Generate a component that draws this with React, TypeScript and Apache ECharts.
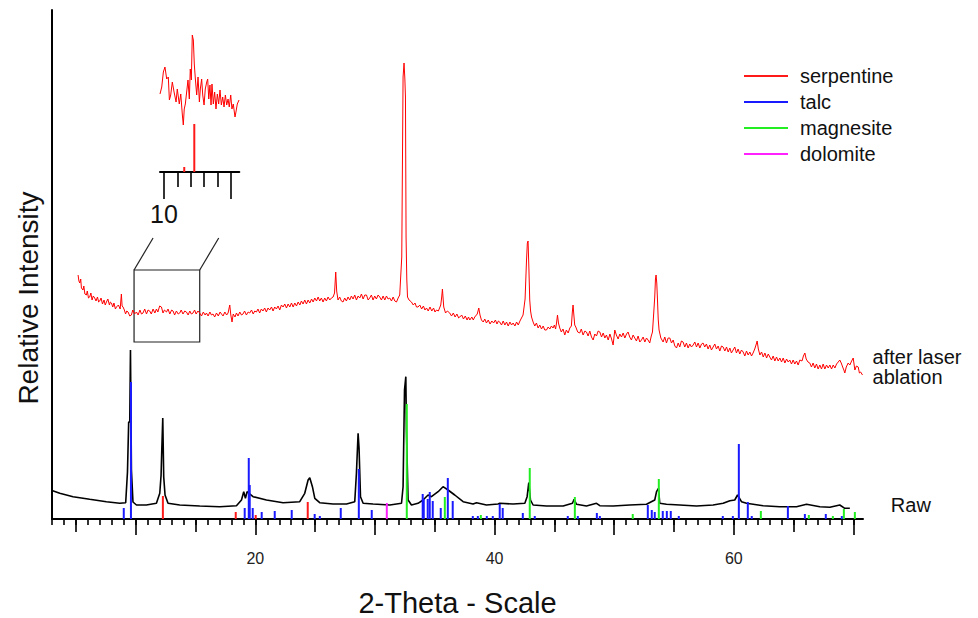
import React, { useEffect, useRef } from "react";
import * as echarts from "echarts";

const FONT = '"Liberation Sans", Arial, sans-serif';

// main axis range (2-theta, degrees)
const X_MIN = 3;
const X_MAX = 70.8;
const Y_MAX = 509;
const minorTickValues = Array.from({ length: 68 }, (_, i) => i + 3);
const midTickValues = [5, 15, 25, 35, 45, 55, 65];
const majorTickValues = [10, 20, 30, 40, 50, 60, 70];
const tickLabelValues = [20, 40, 60];

// inset axis
const INSET_MIN = 9.7;
const INSET_MAX = 15.62;
const insetMinorTicks = [11, 12, 13, 14];
const insetMajorTicks = [10, 15];
const insetLabelValues = [10];

// raw pattern (black)
const rawTrace: number[][] = [
  [3.0, 28.5], [3.65, 25.7], [4.76, 22.3], [6.15, 19.7], [7.55, 17.3], [8.66, 15.7], [9.16, 16.3],
  [9.31, 47], [9.41, 97], [9.5, 97], [9.56, 169], [9.64, 49], [9.77, 17], [10.06, 14], [10.89, 14],
  [11.73, 15.7], [12.01, 25.7], [12.12, 44], [12.17, 66], [12.26, 101], [12.34, 42], [12.45, 24],
  [12.7, 15.7], [13.68, 14], [15.35, 13], [17.02, 12.3], [18.42, 13.3], [18.84, 19], [19.03, 27.3],
  [19.17, 20.7], [19.31, 27.3], [19.47, 25.7], [19.81, 22.3], [20.93, 19], [22.32, 16.3], [23.71, 17.3],
  [24.13, 25.7], [24.41, 39], [24.55, 41.3], [24.77, 32.3], [24.97, 20.7], [25.38, 16.3], [26.5, 15],
  [27.62, 15], [28.31, 17.3], [28.45, 45.7], [28.59, 85.7], [28.67, 70.7], [28.79, 22.3], [29.01, 15.7],
  [29.84, 15], [31.24, 14], [32.22, 15.7], [32.35, 32.3], [32.47, 129], [32.58, 142.3], [32.63, 89],
  [32.77, 19], [33.05, 14], [33.6, 15.7], [34.02, 19], [34.44, 24], [34.72, 22.3], [35.28, 27.3],
  [35.69, 32.3], [36.11, 29], [36.67, 24], [37.37, 17.3], [38.2, 15], [38.49, 16.3], [39.32, 14],
  [40.29, 15], [40.43, 15.7], [41.55, 15], [42.53, 15.7], [42.72, 22.3], [42.86, 36.3], [43.0, 19],
  [43.22, 14], [44.34, 13], [45.73, 13], [46.51, 15.7], [46.65, 19.7], [46.85, 14.7], [47.68, 13],
  [48.52, 15.7], [48.8, 13.3], [49.91, 13], [51.3, 14], [52.7, 14.7], [53.39, 19], [53.54, 27.3],
  [53.7, 30.7], [53.81, 15.7], [54.37, 14.7], [55.48, 14], [56.88, 13], [58.27, 14], [59.11, 15.7],
  [59.67, 18.3], [60.08, 19], [60.31, 24], [60.64, 17.3], [61.06, 15.7], [62.45, 13.3], [63.85, 12.3],
  [65.24, 12.3], [66.08, 14.7], [67.19, 12.3], [68.03, 11.7], [68.86, 14], [69.28, 10.7], [69.7, 10.7],
];

// pattern after laser ablation (red, offset)
const ablatedTrace: number[][] = [
  [5.18, 244], [5.25, 238], [5.32, 236], [5.4, 240], [5.46, 231], [5.59, 229], [5.66, 233], [5.75, 225],
  [5.88, 224], [5.95, 228], [6.05, 221], [6.15, 222], [6.25, 226], [6.35, 219], [6.45, 223], [6.57, 221],
  [6.68, 218], [6.8, 222], [6.9, 217], [6.99, 218], [7.1, 221], [7.22, 215], [7.35, 219], [7.45, 214],
  [7.55, 217], [7.67, 220], [7.8, 214], [7.88, 217], [7.97, 216], [8.08, 212], [8.18, 216], [8.3, 210],
  [8.39, 212], [8.55, 214], [8.7, 210], [8.8, 225], [8.86, 213], [8.94, 212], [9.05, 209], [9.15, 205],
  [9.25, 208], [9.36, 207], [9.5, 203], [9.64, 204], [9.75, 209], [9.9, 205], [10.06, 207], [10.2, 204],
  [10.35, 209], [10.48, 205], [10.61, 206], [10.75, 210], [10.9, 205], [11.03, 209], [11.17, 208],
  [11.3, 205], [11.45, 210], [11.6, 206], [11.73, 210], [11.85, 207], [12.0, 213], [12.15, 212],
  [12.28, 206], [12.4, 209], [12.57, 207], [12.7, 210], [12.85, 205], [13.0, 209], [13.12, 208],
  [13.25, 204], [13.4, 208], [13.55, 205], [13.68, 206], [13.8, 209], [13.95, 205], [14.1, 208],
  [14.24, 207], [14.38, 204], [14.52, 208], [14.65, 205], [14.79, 206], [14.92, 209], [15.05, 205],
  [15.2, 208], [15.35, 206], [15.5, 203], [15.65, 207], [15.8, 204], [15.91, 206], [16.05, 203],
  [16.2, 207], [16.33, 204], [16.46, 205], [16.6, 202], [16.75, 206], [16.9, 203], [17.05, 207],
  [17.17, 205], [17.3, 203], [17.45, 207], [17.6, 204], [17.72, 206], [17.86, 214], [17.95, 204],
  [18.05, 197], [18.15, 205], [18.3, 202], [18.42, 206], [18.55, 203], [18.7, 207], [18.84, 204],
  [18.97, 205], [19.1, 208], [19.25, 204], [19.4, 207], [19.53, 206], [19.68, 209], [19.82, 205],
  [19.95, 208], [20.09, 207], [20.22, 210], [20.36, 206], [20.5, 210], [20.64, 208], [20.78, 211],
  [20.92, 207], [21.06, 211], [21.2, 209], [21.35, 212], [21.48, 208], [21.62, 212], [21.76, 210],
  [21.9, 213], [22.04, 209], [22.18, 214], [22.32, 212], [22.46, 215], [22.6, 211], [22.74, 215],
  [22.88, 212], [23.02, 216], [23.16, 212], [23.3, 216], [23.44, 213], [23.58, 217], [23.72, 214],
  [23.85, 218], [23.99, 215], [24.13, 219], [24.27, 215], [24.41, 219], [24.55, 216], [24.7, 220],
  [24.83, 217], [24.97, 221], [25.11, 218], [25.25, 222], [25.38, 218], [25.52, 221], [25.66, 217],
  [25.8, 221], [25.94, 218], [26.08, 222], [26.22, 219], [26.36, 221], [26.5, 222], [26.62, 226],
  [26.72, 247], [26.8, 228], [26.91, 219], [27.05, 222], [27.19, 218], [27.33, 217], [27.47, 221],
  [27.61, 218], [27.75, 222], [27.89, 219], [28.03, 223], [28.17, 220], [28.31, 224], [28.45, 219],
  [28.59, 223], [28.73, 221], [28.87, 225], [29.01, 220], [29.15, 224], [29.29, 224], [29.43, 219],
  [29.56, 221], [29.7, 224], [29.84, 219], [29.98, 223], [30.12, 220], [30.26, 224], [30.4, 222],
  [30.54, 219], [30.68, 223], [30.82, 219], [30.96, 223], [31.1, 220], [31.24, 221], [31.38, 218],
  [31.52, 222], [31.66, 218], [31.8, 217], [31.94, 221], [32.07, 224], [32.24, 262], [32.35, 442],
  [32.43, 456], [32.5, 440], [32.55, 422], [32.6, 282], [32.66, 240], [32.72, 222], [32.85, 219],
  [33.05, 217], [33.2, 214], [33.35, 216], [33.47, 212], [33.6, 212], [33.75, 214], [33.9, 210],
  [34.05, 213], [34.18, 209], [34.31, 211], [34.45, 208], [34.6, 212], [34.75, 208], [34.9, 211],
  [35.02, 207], [35.14, 209], [35.3, 208], [35.5, 214], [35.58, 222], [35.64, 230], [35.7, 220],
  [35.75, 212], [35.9, 206], [36.05, 208], [36.25, 206], [36.4, 203], [36.55, 206], [36.7, 202],
  [36.85, 205], [37.0, 201], [37.09, 202], [37.25, 204], [37.4, 200], [37.55, 203], [37.7, 199],
  [37.82, 202], [37.93, 199], [38.1, 202], [38.22, 199], [38.34, 202], [38.55, 205], [38.68, 211],
  [38.78, 204], [38.9, 199], [39.05, 197], [39.18, 200], [39.32, 196], [39.47, 199], [39.62, 195],
  [39.77, 198], [39.92, 196], [40.07, 199], [40.2, 195], [40.32, 198], [40.43, 197], [40.58, 194],
  [40.72, 198], [40.86, 194], [41.0, 197], [41.14, 193], [41.28, 197], [41.42, 194], [41.55, 196],
  [41.7, 193], [41.84, 197], [41.98, 194], [42.12, 198], [42.25, 201], [42.38, 204], [42.55, 220],
  [42.67, 259], [42.74, 276], [42.8, 278], [42.87, 250], [42.94, 219], [43.01, 208], [43.09, 202],
  [43.22, 197], [43.36, 193], [43.5, 196], [43.64, 191], [43.78, 194], [43.92, 190], [44.06, 193],
  [44.2, 189], [44.34, 189], [44.48, 192], [44.62, 190], [44.75, 193], [44.89, 191], [45.0, 194],
  [45.1, 190], [45.18, 196], [45.26, 204], [45.34, 196], [45.45, 191], [45.58, 187], [45.72, 190],
  [45.87, 184], [46.0, 189], [46.15, 186], [46.29, 191], [46.42, 193], [46.5, 207], [46.56, 214],
  [46.62, 205], [46.7, 194], [46.79, 192], [46.95, 187], [47.12, 186], [47.25, 190], [47.4, 184],
  [47.55, 188], [47.68, 187], [47.82, 183], [47.96, 188], [48.1, 182], [48.24, 179], [48.38, 185],
  [48.52, 183], [48.66, 188], [48.8, 187], [48.94, 182], [49.08, 186], [49.22, 181], [49.35, 184],
  [49.5, 179], [49.64, 185], [49.78, 180], [49.91, 174], [50.05, 189], [50.18, 184], [50.33, 180],
  [50.47, 185], [50.61, 182], [50.75, 186], [50.89, 181], [51.03, 185], [51.16, 187], [51.3, 182],
  [51.44, 179], [51.58, 184], [51.72, 181], [51.86, 178], [52.0, 183], [52.14, 177], [52.28, 179],
  [52.42, 182], [52.56, 177], [52.7, 181], [52.83, 179], [52.97, 176], [53.1, 183], [53.2, 187],
  [53.3, 205], [53.39, 222], [53.45, 240], [53.5, 244], [53.56, 236], [53.62, 219], [53.68, 200],
  [53.75, 189], [53.9, 181], [54.09, 177], [54.23, 182], [54.37, 176], [54.51, 181], [54.65, 181],
  [54.79, 176], [54.93, 179], [55.07, 173], [55.21, 171], [55.35, 176], [55.48, 172], [55.62, 178],
  [55.76, 177], [55.9, 172], [56.04, 176], [56.18, 171], [56.32, 175], [56.46, 172], [56.6, 174],
  [56.74, 177], [56.88, 172], [57.02, 176], [57.16, 171], [57.3, 175], [57.43, 176], [57.57, 172],
  [57.71, 175], [57.85, 170], [57.99, 174], [58.13, 169], [58.27, 172], [58.41, 175], [58.55, 170],
  [58.69, 173], [58.83, 168], [58.97, 173], [59.11, 172], [59.25, 168], [59.39, 172], [59.53, 167],
  [59.67, 171], [59.8, 166], [59.94, 169], [60.08, 172], [60.22, 166], [60.36, 170], [60.5, 165],
  [60.64, 169], [60.78, 167], [60.92, 163], [61.06, 168], [61.2, 164], [61.34, 167], [61.48, 163],
  [61.61, 166], [61.75, 170], [61.88, 175], [61.95, 178], [62.05, 170], [62.18, 164], [62.32, 167],
  [62.46, 162], [62.6, 166], [62.74, 161], [62.88, 165], [63.01, 162], [63.15, 159], [63.29, 163],
  [63.43, 158], [63.57, 162], [63.71, 158], [63.85, 161], [63.99, 157], [64.13, 161], [64.27, 156],
  [64.41, 160], [64.55, 157], [64.68, 159], [64.82, 155], [64.96, 159], [65.1, 155], [65.24, 158],
  [65.38, 154], [65.52, 159], [65.7, 158], [65.82, 163], [65.94, 166], [66.05, 160], [66.2, 157],
  [66.35, 156], [66.49, 152], [66.63, 156], [66.77, 151], [66.91, 155], [67.05, 150], [67.19, 154],
  [67.33, 150], [67.47, 155], [67.61, 150], [67.75, 154], [67.89, 151], [68.03, 154], [68.17, 150],
  [68.31, 154], [68.45, 151], [68.59, 155], [68.73, 157], [68.86, 159], [68.98, 156], [69.1, 152],
  [69.2, 149], [69.28, 146], [69.4, 152], [69.56, 156], [69.7, 154], [69.85, 158], [69.98, 161],
  [70.05, 155], [70.12, 149], [70.25, 153], [70.4, 152], [70.5, 146], [70.6, 147], [70.76, 144],
];

// reference stick patterns [2-theta, relative height]
const serpentineSticks: number[][] = [[12.27, 23], [18.36, 7], [20.03, 4], [24.38, 17]];
const talcSticks: number[][] = [
  [9.0, 11], [9.6, 137], [19.11, 11], [19.45, 61], [19.53, 34], [19.78, 11], [20.53, 7], [21.62, 8],
  [23.04, 9], [24.96, 5], [25.39, 3], [27.14, 11], [28.65, 50], [29.73, 9], [33.99, 25], [34.08, 20],
  [34.41, 20], [34.58, 27], [34.83, 18], [35.5, 11], [36.09, 41], [36.5, 18], [38.18, 3], [38.6, 3],
  [39.35, 3], [39.85, 3], [40.43, 15], [40.68, 11], [42.36, 6], [43.36, 3], [46.12, 3], [46.96, 3],
  [48.55, 6], [48.8, 3], [52.81, 14], [53.14, 9], [53.39, 7], [54.06, 8], [54.4, 8], [54.73, 8],
  [55.4, 3], [59.08, 3], [59.92, 3], [60.42, 75], [61.17, 17], [61.5, 3], [64.52, 13], [65.94, 5],
  [67.69, 5], [69.03, 3],
];
const magnesiteSticks: number[][] = [
  [32.66, 115], [35.84, 22], [38.85, 4], [42.94, 51], [46.71, 22], [51.55, 5], [53.73, 40],
  [62.26, 8], [66.27, 4], [68.28, 3], [69.2, 10], [70.12, 7],
];
const dolomiteSticks: number[][] = [[30.99, 16]];

// inset: enlarged region 9.7-15.6 of the ablated pattern
const insetTrace: number[][] = [
  [9.7, 78], [9.83, 85], [9.95, 100], [10.07, 105], [10.2, 93], [10.32, 95], [10.4, 72], [10.5, 77],
  [10.62, 90], [10.75, 80], [10.9, 70], [10.99, 83], [11.14, 68], [11.25, 78], [11.37, 57], [11.44, 47],
  [11.51, 63], [11.59, 68], [11.69, 80], [11.79, 92], [11.89, 73], [11.96, 103], [12.04, 92],
  [12.11, 137], [12.19, 132], [12.26, 108], [12.34, 93], [12.44, 77], [12.54, 95], [12.64, 70],
  [12.71, 83], [12.81, 93], [12.89, 77], [12.99, 67], [13.08, 83], [13.19, 90], [13.26, 93],
  [13.34, 73], [13.43, 87], [13.51, 67], [13.58, 88], [13.68, 68], [13.78, 80], [13.88, 63],
  [13.98, 78], [14.08, 68], [14.18, 82], [14.28, 67], [14.38, 75], [14.48, 65], [14.58, 77],
  [14.68, 67], [14.78, 73], [14.87, 65], [14.98, 77], [15.07, 63], [15.17, 68], [15.3, 55],
  [15.37, 60], [15.47, 68], [15.6, 72],
];
const insetSticks: number[][] = [[11.51, 5], [12.26, 48]];
const INSET_Y_MAX = 142;

// zoom box on the ablated pattern
const zoomBox = { x0: 9.86, x1: 15.35, y0: 177, y1: 249 };

const legendNames = ["serpentine", "talc", "magnesite", "dolomite"];
const COLORS: Record<string, string> = {
  serpentine: "#ff1a1a",
  talc: "#1a1aff",
  magnesite: "#22ee22",
  dolomite: "#ff22ff",
};

function stickRenderer(width: number) {
  return (params: any, api: any) => {
    const x = api.value(0);
    const h = api.value(1);
    const p0 = api.coord([x, 0]);
    const p1 = api.coord([x, h]);
    return {
      type: "rect",
      shape: { x: p0[0] - width / 2, y: p1[1], width, height: p0[1] - p1[1] },
      style: { fill: api.visual("color") },
    };
  };
}

function stickSeries(name: string, data: number[][], xi = 0, yi = 0) {
  return {
    type: "custom",
    name,
    xAxisIndex: xi,
    yAxisIndex: yi,
    data,
    encode: { x: 0, y: 1 },
    itemStyle: { color: COLORS[name] },
    renderItem: stickRenderer(2),
    z: 3,
    silent: true,
  };
}

export default function App() {
  const ref = useRef<HTMLDivElement>(null);
  useEffect(() => {
    if (!ref.current) return;
    document.body.style.margin = "0";
    const chart = echarts.init(ref.current, null, { renderer: "svg" });
    const hiddenAxisBits = {
      axisLine: { show: false },
      axisLabel: { show: false },
      splitLine: { show: false },
    };
    const option: any = {
      animation: false,
      backgroundColor: "#ffffff",
      textStyle: { fontFamily: FONT },
      grid: [
        { left: 52, top: 10, width: 811, height: 509, outerBoundsMode: "none" },
        { left: 160, top: 30, width: 79.3, height: 142, outerBoundsMode: "none" },
      ],
      legend: {
        orient: "vertical",
        left: 739,
        top: 61,
        itemWidth: 44,
        itemHeight: 2,
        itemGap: 6,
        selectedMode: false,
        data: legendNames.map((n) => ({ name: n, icon: "rect" })),
        textStyle: { fontSize: 20, color: "#111", fontFamily: FONT, padding: [0, 0, 0, 7] },
      },
      xAxis: [
        {
          type: "value",
          gridIndex: 0,
          position: "bottom",
          min: X_MIN,
          max: X_MAX,
          axisLine: { show: true, onZero: false, lineStyle: { color: "#000", width: 2 } },
          axisTick: { show: true, customValues: minorTickValues, length: 6, lineStyle: { color: "#000", width: 1.6 } },
          axisLabel: { show: true, customValues: tickLabelValues, margin: 31, fontSize: 16, color: "#222", fontFamily: FONT },
          splitLine: { show: false },
          name: "2-Theta - Scale",
          nameLocation: "middle",
          nameGap: 69,
          nameTextStyle: { fontSize: 29, color: "#111", fontFamily: FONT },
        },
        {
          type: "value",
          gridIndex: 0,
          position: "bottom",
          min: X_MIN,
          max: X_MAX,
          ...hiddenAxisBits,
          axisTick: { show: true, customValues: midTickValues, length: 13, lineStyle: { color: "#000", width: 1.6 } },
        },
        {
          type: "value",
          gridIndex: 0,
          position: "bottom",
          min: X_MIN,
          max: X_MAX,
          ...hiddenAxisBits,
          axisTick: { show: true, customValues: majorTickValues, length: 16, lineStyle: { color: "#000", width: 1.6 } },
        },
        {
          type: "value",
          gridIndex: 1,
          position: "bottom",
          min: INSET_MIN,
          max: INSET_MAX,
          axisLine: { show: true, onZero: false, lineStyle: { color: "#000", width: 2 } },
          axisTick: { show: true, customValues: insetMinorTicks, length: 15, lineStyle: { color: "#000", width: 1.6 } },
          axisLabel: { show: false },
          splitLine: { show: false },
        },
        {
          type: "value",
          gridIndex: 1,
          position: "bottom",
          min: INSET_MIN,
          max: INSET_MAX,
          axisLine: { show: false },
          axisTick: { show: true, customValues: insetMajorTicks, length: 27, lineStyle: { color: "#000", width: 1.6 } },
          axisLabel: { show: true, customValues: insetLabelValues, margin: 29, fontSize: 25, color: "#111", fontFamily: FONT },
          splitLine: { show: false },
        },
      ],
      yAxis: [
        {
          type: "value",
          gridIndex: 0,
          position: "left",
          min: 0,
          max: Y_MAX,
          axisLine: { show: true, onZero: false, lineStyle: { color: "#000", width: 2 } },
          axisTick: { show: false },
          axisLabel: { show: false },
          splitLine: { show: false },
        },
        {
          type: "value",
          gridIndex: 1,
          min: 0,
          max: INSET_Y_MAX,
          show: false,
          splitLine: { show: false },
        },
      ],
      series: [
        {
          type: "line",
          name: "after laser ablation",
          data: ablatedTrace,
          xAxisIndex: 0,
          yAxisIndex: 0,
          symbol: "none",
          lineStyle: { color: "#ff0000", width: 1 },
          itemStyle: { color: "#ff0000" },
          silent: true,
          z: 2,
          endLabel: {
            show: true,
            formatter: "after laser\nablation",
            distance: 10,
            offset: [0, -8],
            fontSize: 20,
            lineHeight: 20,
            color: "#111",
            fontFamily: FONT,
          },
          markArea: {
            silent: true,
            itemStyle: { color: "rgba(0,0,0,0)", borderColor: "#222", borderWidth: 1.2 },
            data: [[{ coord: [zoomBox.x0, zoomBox.y1] }, { coord: [zoomBox.x1, zoomBox.y0] }]],
          },
        },
        {
          type: "line",
          name: "Raw",
          data: rawTrace,
          xAxisIndex: 0,
          yAxisIndex: 0,
          symbol: "none",
          lineStyle: { color: "#000", width: 1.6 },
          itemStyle: { color: "#000" },
          silent: true,
          z: 2,
          endLabel: {
            show: true,
            formatter: "Raw",
            distance: 41,
            offset: [0, -3],
            fontSize: 20,
            color: "#111",
            fontFamily: FONT,
          },
        },
        stickSeries("serpentine", serpentineSticks),
        stickSeries("talc", talcSticks),
        stickSeries("magnesite", magnesiteSticks),
        stickSeries("dolomite", dolomiteSticks),
        {
          type: "line",
          name: "inset",
          data: insetTrace,
          xAxisIndex: 3,
          yAxisIndex: 1,
          symbol: "none",
          lineStyle: { color: "#ff0000", width: 1 },
          itemStyle: { color: "#ff0000" },
          silent: true,
        },
        stickSeries("serpentine", insetSticks, 3, 1),
      ],
      graphic: [
        {
          type: "text",
          x: 28,
          y: 298,
          rotation: Math.PI / 2,
          style: {
            text: "Relative Intensity",
            font: `28px ${FONT}`,
            fill: "#111",
            align: "center",
            verticalAlign: "middle",
          },
        },
      ],
    };
    chart.setOption(option);

    const pL = chart.convertToPixel({ xAxisIndex: 0, yAxisIndex: 0 }, [zoomBox.x0, zoomBox.y1]) as number[];
    const pR = chart.convertToPixel({ xAxisIndex: 0, yAxisIndex: 0 }, [zoomBox.x1, zoomBox.y1]) as number[];
    const dx = 19;
    const dy = -32;
    chart.setOption({
      graphic: [
        option.graphic[0],
        {
          type: "line",
          shape: { x1: pL[0], y1: pL[1], x2: pL[0] + dx, y2: pL[1] + dy },
          style: { stroke: "#222", lineWidth: 1.2 },
          silent: true,
        },
        {
          type: "line",
          shape: { x1: pR[0], y1: pR[1], x2: pR[0] + dx, y2: pR[1] + dy },
          style: { stroke: "#222", lineWidth: 1.2 },
          silent: true,
        },
      ],
    });

    return () => chart.dispose();
  }, []);
  return (
    <div
      ref={ref}
      style={{ position: "fixed", left: 0, top: 0, width: 978, height: 618, background: "#fff" }}
    />
  );
}
